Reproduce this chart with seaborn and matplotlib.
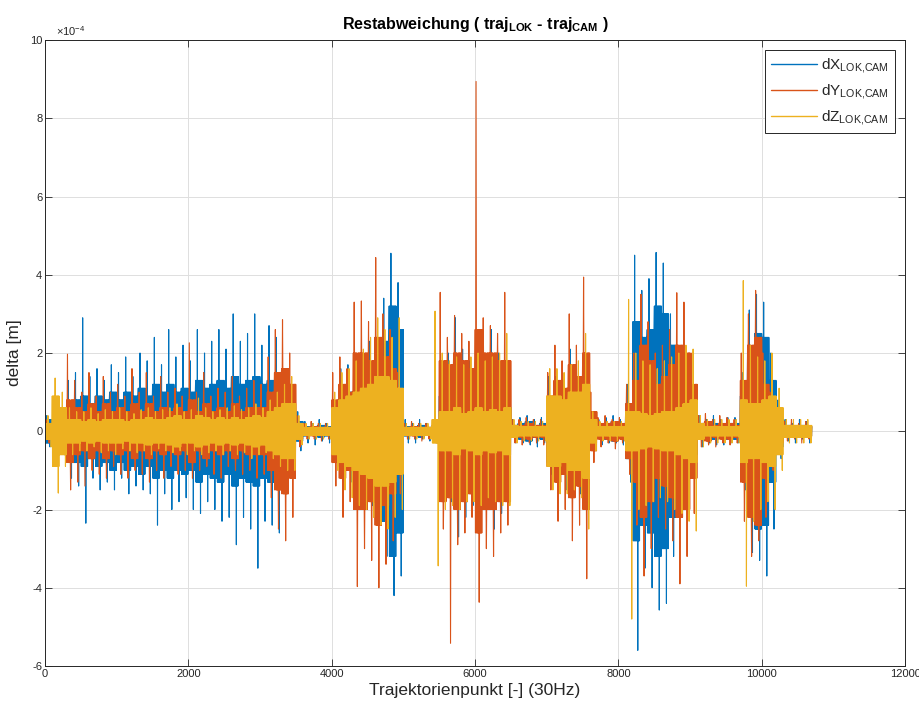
import numpy as np
import pandas as pd
import matplotlib
matplotlib.use("Agg")
import matplotlib.pyplot as plt
from matplotlib.lines import Line2D
import seaborn as sns

# ---------------- data (units of 1e-4 m) ----------------
# per bin of 100 trajectory points: positive peak (hi), negative peak (lo),
# and amplitude of the dense band (mid)
BIN = 100
dX_hi = [0.4, 0.3, 0.6, 1.3, 1.5, 2.9, 1.4, 1.6, 1.3, 1.7,
         1.5, 1.9, 1.4, 2.0, 1.8, 2.4, 1.7, 2.6, 1.9, 2.2,
         1.8, 2.6, 2.0, 2.3, 2.6, 2.1, 3.0, 2.3, 2.5, 3.0,
         2.2, 2.7, 2.4, 1.2, 1.0, 0.5, 0.25, 0.2, 0.3, 0.2,
         0.3, 1.6, 1.7, 1.3, 1.5, 2.3, 2.2, 3.4, 4.55, 3.8,
         0.3, 0.2, 0.3, 0.2, 0.3, 1.6, 2.0, 2.9, 2.1, 1.8,
         1.6, 1.9, 2.6, 2.0, 1.2, 0.3, 0.35, 0.4, 0.3, 0.35,
         1.4, 1.4, 1.3, 2.1, 1.4, 1.3, 0.4, 0.3, 0.35, 0.4,
         0.3, 1.2, 4.5, 3.6, 3.9, 4.57, 4.3, 3.0, 2.0, 1.9,
         1.0, 0.4, 0.3, 0.4, 0.3, 0.35, 0.35, 1.5, 3.1, 3.5,
         3.3, 2.0, 0.8, 0.3, 0.2, 0.3, 0.25]
dX_lo = [-0.4, -0.3, -0.6, -1.2, -1.4, -2.35, -1.2, -1.5, -1.3, -1.5,
         -1.2, -1.6, -1.4, -1.5, -1.6, -2.4, -1.6, -2.0, -1.8, -1.7,
         -2.0, -2.1, -1.8, -2.0, -2.3, -2.2, -2.9, -2.2, -2.5, -3.5,
         -2.3, -2.4, -2.6, -1.1, -0.9, -0.5, -0.3, -0.35, -0.25, -0.3,
         -0.3, -1.4, -1.3, -1.2, -1.7, -1.9, -2.3, -3.2, -4.2, -3.7,
         -0.3, -0.3, -0.2, -0.25, -0.3, -1.5, -1.8, -2.7, -2.2, -1.9,
         -1.7, -2.0, -2.5, -2.1, -1.2, -0.3, -0.3, -0.35, -0.4, -0.3,
         -1.1, -1.3, -1.5, -1.3, -1.6, -1.2, -0.4, -0.35, -0.3, -0.3,
         -0.35, -1.3, -5.6, -3.5, -4.0, -4.57, -4.4, -3.2, -2.2, -2.0,
         -1.0, -0.4, -0.3, -0.35, -0.35, -0.3, -0.3, -1.5, -3.1, -3.3,
         -3.7, -2.5, -0.7, -0.25, -0.3, -0.2, -0.3]
dX_mid = [0.3, 0.2, 0.3, 0.7, 0.8, 0.9, 0.7, 0.9, 0.8, 1.0,
          0.8, 1.0, 0.9, 1.1, 0.9, 1.2, 1.0, 1.2, 1.0, 1.1,
          1.0, 1.3, 1.1, 1.2, 1.3, 1.1, 1.4, 1.2, 1.3, 1.4,
          1.2, 1.3, 1.2, 0.7, 0.5, 0.25, 0.12, 0.1, 0.15, 0.12,
          0.15, 0.9, 1.0, 0.8, 0.9, 1.3, 1.4, 2.3, 3.2, 2.6,
          0.12, 0.1, 0.15, 0.1, 0.15, 0.9, 1.2, 1.6, 1.3, 1.1,
          1.0, 1.2, 1.5, 1.2, 0.6, 0.15, 0.2, 0.25, 0.15, 0.2,
          0.8, 0.9, 0.8, 1.1, 0.9, 0.8, 0.2, 0.15, 0.2, 0.25,
          0.15, 0.7, 2.8, 2.4, 2.6, 3.2, 3.0, 2.2, 1.2, 1.1,
          0.6, 0.2, 0.15, 0.2, 0.15, 0.2, 0.2, 0.9, 2.0, 2.5,
          2.4, 1.3, 0.4, 0.15, 0.1, 0.15, 0.12]

dY_hi = [0.3, 0.2, 0.3, 1.97, 1.3, 1.0, 1.5, 0.9, 1.4, 1.0,
         1.2, 0.9, 1.6, 1.0, 1.5, 0.9, 1.4, 1.0, 1.1, 0.9,
         2.26, 1.0, 1.5, 0.9, 1.1, 1.0, 1.4, 0.9, 1.1, 1.3,
         1.2, 1.9, 2.6, 2.85, 2.0, 0.4, 0.2, 0.25, 0.2, 0.2,
         1.5, 1.9, 1.6, 3.3, 3.33, 2.8, 4.44, 3.0, 2.6, 1.5,
         0.2, 0.25, 0.2, 0.2, 0.3, 3.55, 2.4, 2.96, 2.5, 2.3,
         8.94, 2.9, 2.7, 2.5, 3.55, 0.3, 0.3, 0.35, 0.3, 0.3,
         1.5, 2.2, 1.8, 3.0, 2.2, 3.94, 1.0, 0.35, 0.4, 0.3,
         0.35, 1.2, 2.0, 3.5, 2.8, 2.0, 2.2, 2.6, 3.54, 3.3,
         2.0, 0.4, 0.45, 0.3, 0.4, 0.35, 0.3, 2.0, 3.0, 3.6,
         2.0, 1.0, 0.5, 0.25, 0.3, 0.2, 0.25]
dY_lo = [-0.3, -0.3, -0.3, -1.5, -1.3, -1.4, -1.0, -1.1, -1.2, -0.9,
         -1.1, -1.2, -1.0, -1.1, -1.3, -1.0, -1.2, -0.9, -1.1, -1.0,
         -1.2, -1.0, -0.9, -1.1, -1.2, -0.9, -1.0, -1.1, -1.0, -1.2,
         -1.1, -1.7, -2.5, -2.8, -2.2, -0.4, -0.2, -0.2, -0.25, -0.2,
         -1.4, -2.2, -1.8, -3.97, -3.0, -3.3, -4.0, -3.4, -2.8, -1.6,
         -0.2, -0.2, -0.25, -0.2, -0.3, -2.5, -5.42, -2.9, -2.6, -2.2,
         -4.37, -3.0, -3.2, -2.6, -2.4, -0.3, -0.35, -0.3, -0.3, -0.35,
         -1.5, -2.3, -2.0, -2.8, -2.4, -3.77, -0.8, -0.4, -0.3, -0.45,
         -0.3, -1.1, -2.4, -3.7, -3.0, -2.2, -2.5, -2.8, -3.9, -3.2,
         -2.1, -0.4, -0.35, -0.4, -0.3, -0.35, -0.3, -2.3, -3.2, -2.8,
         -2.2, -1.0, -0.5, -0.25, -0.2, -0.3, -0.2]
dY_mid = [0.2, 0.15, 0.2, 0.8, 0.6, 0.5, 0.7, 0.5, 0.7, 0.5,
          0.6, 0.5, 0.7, 0.5, 0.7, 0.5, 0.6, 0.5, 0.6, 0.5,
          0.8, 0.5, 0.7, 0.5, 0.6, 0.5, 0.7, 0.5, 0.6, 0.6,
          0.6, 1.0, 1.5, 1.6, 1.2, 0.2, 0.1, 0.12, 0.1, 0.1,
          0.8, 1.2, 1.0, 2.0, 2.0, 1.8, 2.4, 1.9, 1.6, 0.9,
          0.1, 0.12, 0.1, 0.1, 0.15, 1.8, 1.7, 2.0, 1.8, 1.6,
          2.6, 2.0, 2.0, 1.8, 1.8, 0.15, 0.15, 0.2, 0.15, 0.15,
          0.9, 1.3, 1.1, 1.7, 1.4, 2.0, 0.5, 0.2, 0.2, 0.25,
          0.2, 0.7, 1.3, 2.2, 1.8, 1.2, 1.4, 1.7, 2.2, 2.0,
          1.2, 0.2, 0.25, 0.15, 0.2, 0.2, 0.15, 1.3, 2.2, 2.4,
          1.2, 0.6, 0.3, 0.12, 0.15, 0.1, 0.12]

dZ_hi = [0.4, 1.36, 1.0, 0.6, 0.5, 0.5, 0.6, 0.45, 0.55, 0.5,
         0.6, 0.5, 0.45, 0.55, 0.6, 0.5, 0.55, 0.6, 0.7, 0.5,
         0.55, 0.85, 0.6, 0.5, 0.55, 0.6, 0.65, 0.55, 0.6, 0.7,
         0.6, 0.8, 1.0, 1.2, 1.4, 0.4, 0.2, 0.2, 0.2, 0.2,
         1.0, 1.5, 1.6, 1.8, 2.1, 2.4, 2.9, 2.6, 2.4, 2.9,
         0.2, 0.2, 0.2, 0.2, 3.07, 2.0, 1.8, 1.9, 1.7, 1.9,
         2.0, 1.8, 1.9, 2.0, 2.5, 0.3, 0.25, 0.25, 0.25, 0.25,
         1.6, 1.6, 1.5, 1.7, 1.8, 2.5, 0.5, 0.25, 0.25, 0.25,
         0.25, 3.37, 2.0, 1.8, 1.7, 1.6, 1.8, 1.9, 2.0, 2.2,
         2.1, 0.4, 0.3, 0.3, 0.3, 0.3, 0.3, 3.85, 2.2, 1.9,
         1.8, 2.0, 1.1, 0.3, 0.3, 0.3, 0.3]
dZ_lo = [-0.4, -1.58, -0.9, -0.6, -0.5, -0.5, -0.4, -0.55, -0.5, -0.6,
         -0.45, -0.5, -0.55, -0.5, -0.6, -0.45, -0.5, -0.55, -0.5, -0.6,
         -0.5, -0.6, -0.55, -0.5, -0.6, -0.5, -0.6, -0.55, -0.7, -0.6,
         -0.55, -0.7, -0.9, -1.0, -1.0, -0.35, -0.2, -0.2, -0.2, -0.2,
         -1.0, -1.5, -1.7, -1.9, -2.0, -2.2, -2.4, -2.5, -2.2, -2.0,
         -0.2, -0.2, -0.2, -0.2, -3.44, -2.0, -1.9, -2.0, -1.8, -1.8,
         -1.9, -1.7, -1.8, -1.9, -1.9, -0.3, -0.25, -0.25, -0.25, -0.25,
         -1.5, -1.6, -1.6, -1.5, -1.7, -2.5, -0.5, -0.25, -0.25, -0.25,
         -0.25, -4.8, -2.0, -1.9, -1.8, -1.7, -1.8, -2.0, -2.1, -2.3,
         -2.55, -0.4, -0.3, -0.3, -0.3, -0.3, -0.3, -3.96, -2.3, -2.0,
         -1.8, -2.0, -1.0, -0.3, -0.3, -0.3, -0.3]
dZ_mid = [0.2, 0.9, 0.6, 0.3, 0.3, 0.25, 0.3, 0.25, 0.3, 0.3,
          0.3, 0.25, 0.3, 0.3, 0.35, 0.3, 0.3, 0.35, 0.4, 0.3,
          0.3, 0.4, 0.35, 0.3, 0.35, 0.3, 0.35, 0.3, 0.35, 0.4,
          0.35, 0.5, 0.6, 0.7, 0.7, 0.2, 0.1, 0.1, 0.1, 0.1,
          0.6, 0.8, 0.9, 1.0, 1.1, 1.2, 1.4, 1.4, 1.3, 1.1,
          0.1, 0.1, 0.1, 0.1, 0.3, 0.5, 0.5, 0.6, 0.45, 0.5,
          0.6, 0.5, 0.55, 0.5, 0.6, 0.15, 0.12, 0.12, 0.12, 0.12,
          0.9, 0.9, 0.8, 1.0, 1.0, 1.2, 0.3, 0.12, 0.12, 0.12,
          0.12, 0.5, 0.5, 0.45, 0.4, 0.45, 0.5, 0.5, 0.6, 0.7,
          0.8, 0.2, 0.12, 0.12, 0.12, 0.12, 0.12, 0.8, 0.7, 0.7,
          0.8, 0.9, 0.6, 0.15, 0.15, 0.15, 0.15]

series_names = ["dX", "dY", "dZ"]
legend_labels = [r"dX$_{\mathregular{LOK{,}CAM}}$", r"dY$_{\mathregular{LOK{,}CAM}}$",
                 r"dZ$_{\mathregular{LOK{,}CAM}}$"]
colors = ["#0072BD", "#D95319", "#EDB120"]
# where, inside each bin, the peak strokes sit (rendering only)
peak_offsets = {"dX": (24, 68), "dY": (12, 56), "dZ": (40, 84)}


def build(name, hi, lo, mid):
    rows = []
    step = 4
    up_at, down_at = peak_offsets[name]
    for k in range(len(hi)):
        for j in range(0, BIN, step):
            s = k * BIN + j
            if j == up_at:
                y = hi[k]
            elif j == down_at:
                y = lo[k]
            else:
                c = min(mid[k], hi[k], -lo[k])
                y = c if (j // step) % 2 == 0 else -c
            rows.append((name, s + 1, y))
    return rows


rows = []
rows += build("dX", dX_hi, dX_lo, dX_mid)
rows += build("dY", dY_hi, dY_lo, dY_mid)
rows += build("dZ", dZ_hi, dZ_lo, dZ_mid)
df = pd.DataFrame(rows, columns=["series", "x", "y"])

# ---------------- style ----------------
sns.set_style("ticks")
plt.rcParams["font.family"] = ["Liberation Sans", "DejaVu Sans"]
plt.rcParams["mathtext.fontset"] = "custom"
plt.rcParams["mathtext.rm"] = "Liberation Sans"
plt.rcParams["mathtext.bf"] = "Liberation Sans:bold"
plt.rcParams["mathtext.it"] = "Liberation Sans:italic"
plt.rcParams["axes.unicode_minus"] = False

dark = "#262626"
fig = plt.figure(figsize=(9.19, 7.08), dpi=100)
ax = fig.add_axes([0.049, 0.0593, 0.936, 0.8842])

sns.lineplot(data=df, x="x", y="y", hue="series", hue_order=series_names,
             palette=colors, estimator=None, sort=False, linewidth=0.8,
             legend=False, ax=ax)

ax.set_xlim(0, 12000)
ax.set_ylim(-6, 10)
ax.set_xticks(np.arange(0, 12001, 2000))
ax.set_yticks(np.arange(-6, 11, 2))
ax.set_yticklabels([str(v) for v in range(-6, 11, 2)])
ax.grid(True, color="#dedede", linewidth=0.7)
ax.set_axisbelow(True)
ax.tick_params(direction="in", top=True, right=True, length=5, width=0.6,
               colors=dark, labelsize=8, pad=2)
for sp in ax.spines.values():
    sp.set_visible(True)
    sp.set_color(dark)
    sp.set_linewidth(0.7)

ax.set_xlabel("Trajektorienpunkt [-] (30Hz)", fontsize=12.5, color=dark, labelpad=3)
ax.set_ylabel("delta [m]", fontsize=12.5, color=dark, labelpad=6)
ax.set_title(r"Restabweichung ( traj$_{\mathbf{LOK}}$ - traj$_{\mathbf{CAM}}$ )",
             fontsize=11.5, fontweight="bold", color="black", pad=8)
ax.text(0.013, 1.003, r"$\times10^{\mathregular{-4}}$", transform=ax.transAxes,
        ha="left", va="bottom", fontsize=8, color=dark)

handles = [Line2D([0], [0], color=c, linewidth=1.0) for c in colors]
leg = ax.legend(handles, legend_labels, loc="upper right", fontsize=11,
                frameon=True, fancybox=False, framealpha=1, edgecolor=dark,
                handlelength=3.0, borderaxespad=0.65, labelspacing=0.45,
                handletextpad=0.3, borderpad=0.4)
leg.get_frame().set_linewidth(0.7)

fig.savefig("out.png", dpi=100)
